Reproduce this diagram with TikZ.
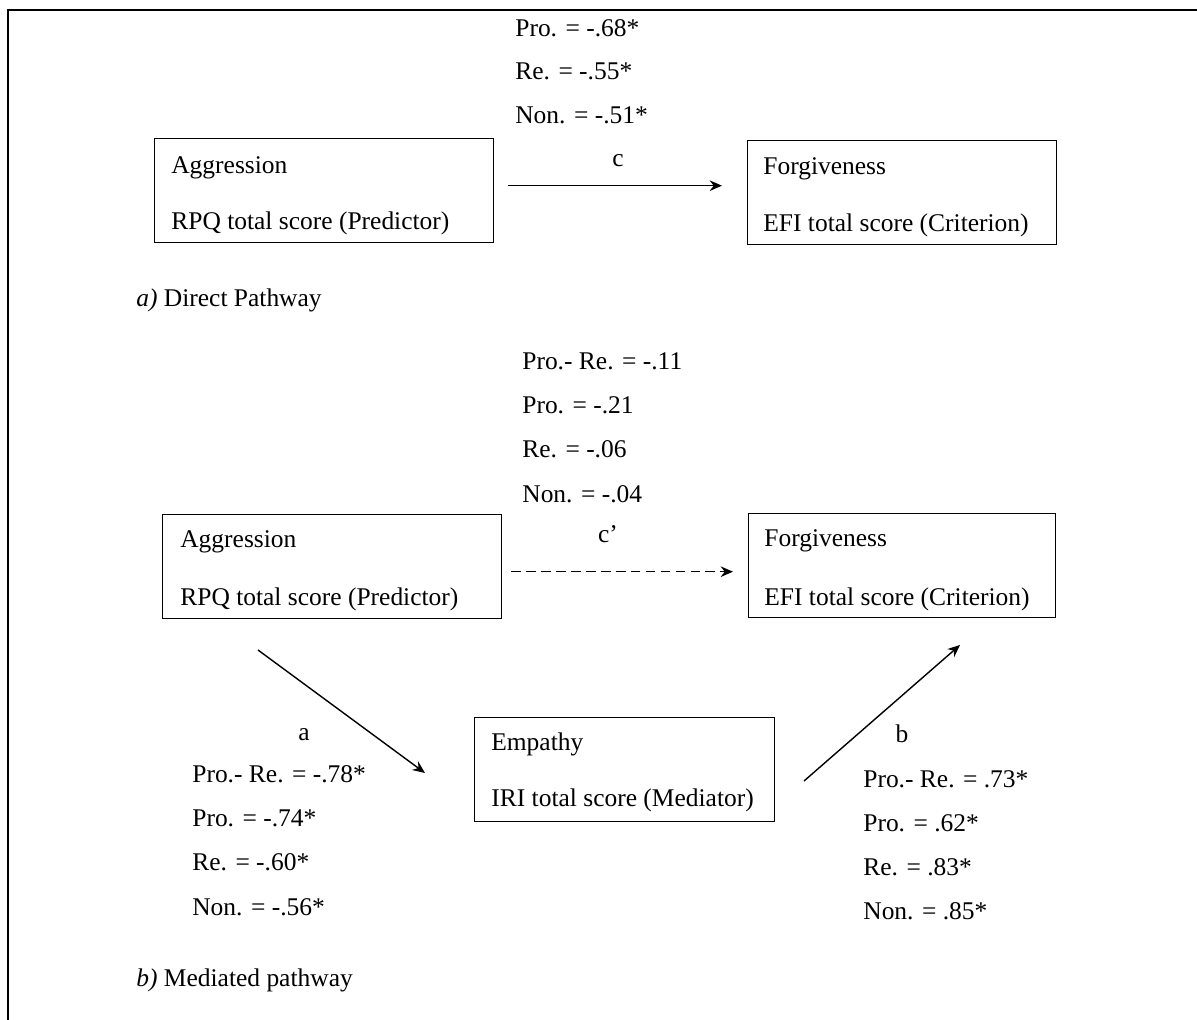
\documentclass[tikz,border=0pt]{standalone}
\usepackage{fontspec}
\setmainfont{Liberation Serif}
\usetikzlibrary{arrows.meta}
\tikzset{
  box/.style={draw,line width=0.8pt,anchor=north west,minimum height=2.08cm},
  lbl/.style={anchor=base west,inner sep=0pt},
  tag/.style={anchor=base,inner sep=0pt},
  link/.style={->,line width=0.8pt}
}
\begin{document}
\begin{tikzpicture}[>={Stealth[length=7pt,width=6pt]},x=0.02cm,y=-0.02cm,font=\fontsize{14.5}{17.4}\selectfont]
                \useasboundingbox (0,0) rectangle (1197,1020);
                \draw[line width=1.1pt] (8,1020) -- (8,10) -- (1197,10);
                \node[box,minimum width=6.78cm] (agg1) at (154,138) {};
                \node[lbl] (agg1a) at (171,174) {Aggression};
                \node[lbl] (agg1b) at (171,230) {RPQ total score (Predictor)};
                \node[box,minimum width=6.18cm] (for1) at (747,140) {};
                \node[lbl] (for1a) at (763,175) {Forgiveness};
                \node[lbl] (for1b) at (763,232) {EFI total score (Criterion)};
                \node[lbl] (d1) at (515,37) {Pro. = -.68*};
                \node[lbl] (d2) at (515,80) {Re. = -.55*};
                \node[lbl] (d3) at (515,124) {Non. = -.51*};
                \node[tag] (c) at (618,167) {c};
                \draw[link,shorten <=0.28cm,shorten >=0.5cm] ([yshift=0.1cm]agg1.east) -- ([yshift=0.1cm]agg1.east -| for1.west);
                \node[lbl] (capa) at (136,307) {\textit{a)} Direct Pathway};
                \node[box,minimum width=6.78cm] (agg2) at (162,514) {};
                \node[lbl] (agg2a) at (180,547) {Aggression};
                \node[lbl] (agg2b) at (180,605) {RPQ total score (Predictor)};
                \node[box,minimum width=6.14cm] (for2) at (748,513) {};
                \node[lbl] (for2a) at (764,546) {Forgiveness};
                \node[lbl] (for2b) at (764,605) {EFI total score (Criterion)};
                \node[box,minimum width=6cm] (emp) at (474,717) {};
                \node[lbl] (empa) at (491,750) {Empathy};
                \node[lbl] (empb) at (491,806) {IRI total score (Mediator)};
                \node[lbl] (m1) at (522,370) {Pro.- Re. = -.11};
                \node[lbl] (m2) at (522,414) {Pro. = -.21};
                \node[lbl] (m3) at (522,458) {Re. = -.06};
                \node[lbl] (m4) at (522,502) {Non. = -.04};
                \node[tag] (cp) at (608,542) {c'};
                \draw[link,dash pattern=on 5.5pt off 3pt,shorten <=0.18cm,shorten >=0.3cm] ([yshift=-0.1cm]agg2.east) -- ([yshift=-0.1cm]agg2.east -| for2.west);
                \coordinate (a0) at (258,650);
                \coordinate (a1) at (425,773);
                \draw[link] (a0) -- (a1);
                \coordinate (b0) at (804,781);
                \coordinate (b1) at (960,645);
                \draw[link] (b0) -- (b1);
                \node[tag] (a) at (304,740) {a};
                \node[lbl] (l1) at (192,782) {Pro.- Re. = -.78*};
                \node[lbl] (l2) at (192,826) {Pro. = -.74*};
                \node[lbl] (l3) at (192,870) {Re. = -.60*};
                \node[lbl] (l4) at (192,915) {Non. = -.56*};
                \node[tag] (b) at (902,742) {b};
                \node[lbl] (r1) at (863,787) {Pro.- Re. = .73*};
                \node[lbl] (r2) at (863,831) {Pro. = .62*};
                \node[lbl] (r3) at (863,875) {Re. = .83*};
                \node[lbl] (r4) at (863,919) {Non. = .85*};
                \node[lbl] (capb) at (136,986) {\textit{b)} Mediated pathway};
            \end{tikzpicture}
\end{document}
